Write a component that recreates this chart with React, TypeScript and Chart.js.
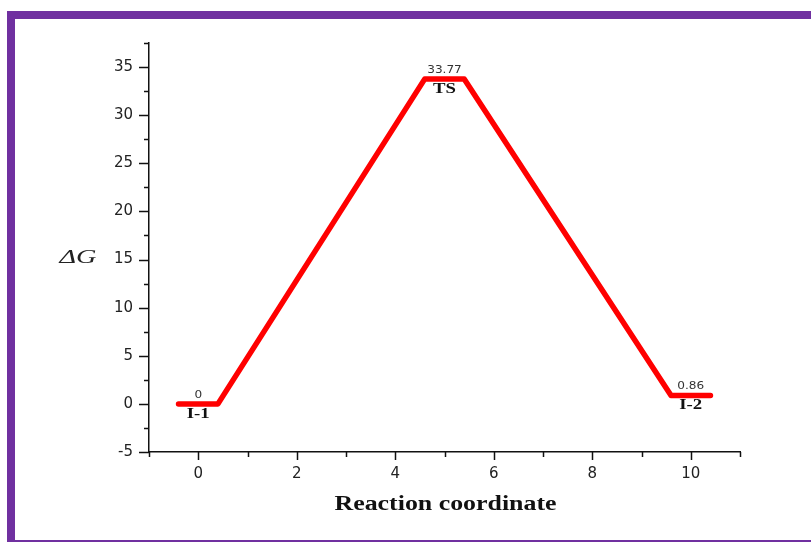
import React, { useEffect, useRef } from 'react';
import { Chart, registerables } from 'chart.js';

Chart.register(...registerables);

// Energy profile path (reaction coordinate, ΔG)
const pathX = [-0.4, 0.4, 4.6, 5.4, 9.6, 10.4];
const pathG = [0, 0, 33.77, 33.77, 0.86, 0.86];

// Stationary points
const stageNames = ['I-1', 'TS', 'I-2'];
const stageX = [0, 5, 10];
const stageG = [0, 33.77, 0.86];
const stageEnergyLabels = ['0', '33.77', '0.86'];

// Axes
const xMin = -1;
const xMax = 11;
const xStep = 1;
const xMajorEvery = 2;
const yMin = -5;
const yMax = 37.5;
const yStep = 2.5;
const yMajorEvery = 5;

const xTitle = 'Reaction coordinate';
const yTitle = 'ΔG';

function drawText(
  ctx: CanvasRenderingContext2D,
  text: string,
  x: number,
  y: number,
  font: string,
  color: string,
  stretch: number,
  targetWidth?: number
) {
  ctx.save();
  ctx.font = font;
  ctx.fillStyle = color;
  ctx.textAlign = 'center';
  ctx.textBaseline = 'middle';
  let sx = stretch;
  if (targetWidth) {
    const w = ctx.measureText(text).width;
    sx = targetWidth / w;
  }
  ctx.translate(x, y);
  ctx.scale(sx, 1);
  ctx.fillText(text, 0, 0);
  ctx.restore();
}

const decorPlugin = {
  id: 'decor',
  beforeDraw(chart: any) {
    const ctx = chart.ctx as CanvasRenderingContext2D;
    ctx.save();
    ctx.fillStyle = '#ffffff';
    ctx.fillRect(0, 0, chart.width, chart.height);
    ctx.fillStyle = '#7030A0';
    ctx.fillRect(7, 11, chart.width - 7, 8);
    ctx.fillRect(7, 11, 8, chart.height - 11);
    ctx.fillRect(7, chart.height - 2, chart.width - 7, 2);
    ctx.restore();
  },
  afterDraw(chart: any) {
    const ctx = chart.ctx as CanvasRenderingContext2D;
    const xs = chart.scales.x;
    const ys = chart.scales.y;
    const area = chart.chartArea;
    ctx.save();
    ctx.strokeStyle = '#111';
    ctx.lineWidth = 1.5;
    // y ticks
    ys.ticks.forEach((t: any) => {
      const py = Math.round(ys.getPixelForValue(t.value)) + 0.5;
      const major = Math.abs(t.value / yMajorEvery - Math.round(t.value / yMajorEvery)) < 1e-6;
      const len = major ? 10 : 5;
      ctx.beginPath();
      ctx.moveTo(area.left - len, py);
      ctx.lineTo(area.left, py);
      ctx.stroke();
    });
    // x ticks
    xs.ticks.forEach((t: any) => {
      const px = Math.round(xs.getPixelForValue(t.value)) + 0.5;
      const major = Math.abs(t.value / xMajorEvery - Math.round(t.value / xMajorEvery)) < 1e-6;
      const len = major ? 8 : 5;
      ctx.beginPath();
      ctx.moveTo(px, area.bottom);
      ctx.lineTo(px, area.bottom + len);
      ctx.stroke();
    });
    ctx.restore();

    // stage labels
    for (let i = 0; i < stageNames.length; i++) {
      const px = xs.getPixelForValue(stageX[i]);
      const py = ys.getPixelForValue(stageG[i]);
      drawText(ctx, stageEnergyLabels[i], px, py - 9, '11px "DejaVu Sans"', '#333', 1.1);
      drawText(ctx, stageNames[i], px, py + 10, 'bold 15px "Liberation Serif"', '#111', 1.25);
    }

    // titles
    drawText(ctx, yTitle, 78, 258, 'italic 19px "Liberation Serif"', '#222', 1, 37);
    drawText(ctx, xTitle, (area.left + area.right) / 2 + 1, 505, 'bold 20px "Liberation Serif"', '#111', 1, 222);
  },
};

export default function App() {
  const ref = useRef<HTMLCanvasElement | null>(null);
  useEffect(() => {
    if (!ref.current) return;
    const data = pathX.map((x, i) => ({ x, y: pathG[i] }));
    const chart = new Chart(ref.current, {
      type: 'line',
      data: {
        datasets: [
          {
            data,
            borderColor: '#ff0000',
            borderWidth: 5.5,
            pointRadius: 0,
            tension: 0,
            fill: false,
            borderJoinStyle: 'round',
            borderCapStyle: 'round',
          },
        ],
      },
      options: {
        responsive: false,
        animation: false,
        devicePixelRatio: 1,
        layout: { padding: { top: 43, right: 71, bottom: 0, left: 0 } },
        plugins: { legend: { display: false }, tooltip: { enabled: false } },
        scales: {
          x: {
            type: 'linear',
            min: xMin,
            max: xMax,
            afterFit: (s: any) => {
              s.height = 90;
            },
            grid: { display: false, drawTicks: false },
            border: { display: true, color: '#111', width: 1.5 },
            ticks: {
              stepSize: xStep,
              autoSkip: false,
              maxRotation: 0,
              padding: 13,
              color: '#222',
              font: { family: '"DejaVu Sans"', size: 15 },
              callback: (v: any) => (Math.abs(v % xMajorEvery) < 1e-6 ? String(v) : ''),
            },
          },
          y: {
            type: 'linear',
            min: yMin,
            max: yMax,
            afterFit: (s: any) => {
              s.width = 149;
            },
            grid: { display: false, drawTicks: false },
            border: { display: true, color: '#111', width: 1.5 },
            ticks: {
              stepSize: yStep,
              autoSkip: false,
              padding: 16,
              color: '#222',
              font: { family: '"DejaVu Sans"', size: 15 },
              callback: (v: any) => (Math.abs(v % yMajorEvery) < 1e-6 ? String(v) : ''),
            },
          },
        },
      },
      plugins: [decorPlugin],
    });
    return () => chart.destroy();
  }, []);
  return (
    <div style={{ position: 'absolute', left: 0, top: 0, width: 811, height: 542 }}>
      <canvas ref={ref} width={811} height={542} style={{ width: 811, height: 542 }} />
    </div>
  );
}
